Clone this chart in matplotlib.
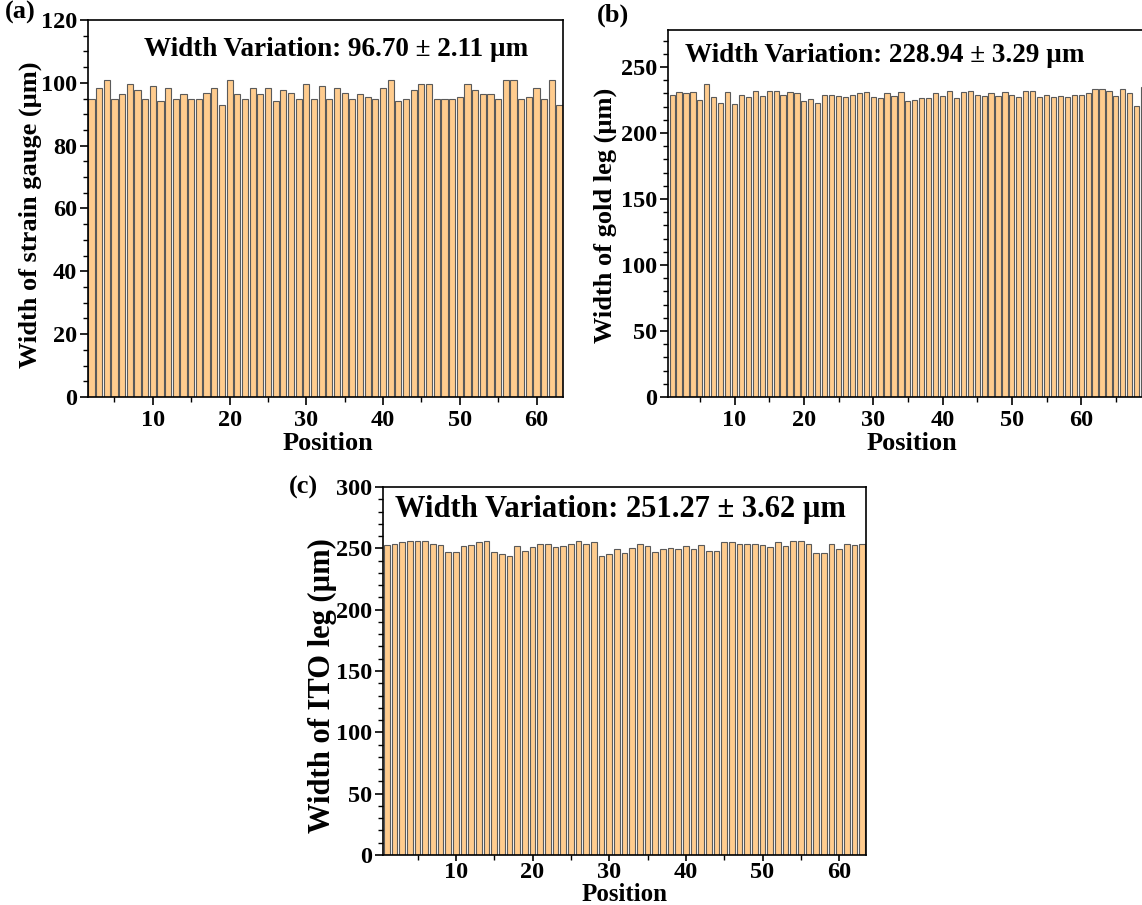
import matplotlib
matplotlib.use('Agg')
import matplotlib.pyplot as plt
from matplotlib.ticker import MultipleLocator, FixedLocator

plt.rcParams['font.family'] = ['Liberation Serif', 'DejaVu Serif']
plt.rcParams['font.weight'] = 'bold'

# ---------------- data ----------------
pos_a = list(range(2, 64))
width_a = [95.0, 98.2, 100.8, 95.0, 96.4, 99.5, 97.6, 95.0, 98.9, 94.3,
           98.2, 95.0, 96.4, 95.0, 95.0, 96.9, 98.2, 93.1, 100.8, 96.4,
           95.0, 98.2, 96.4, 98.2, 94.3, 97.6, 96.9, 95.0, 99.5, 95.0,
           98.9, 95.0, 98.2, 96.9, 95.0, 96.4, 95.6, 95.0, 98.2, 100.8,
           94.3, 95.0, 97.6, 99.5, 99.5, 95.0, 95.0, 95.0, 95.6, 99.5,
           97.6, 96.4, 96.4, 95.0, 100.8, 100.8, 95.0, 95.6, 98.2, 95.0,
           100.8, 93.1]

pos_b = list(range(1, 70))
width_b = [229, 231, 230, 231, 225, 237, 227, 223, 231, 222,
           229, 227, 232, 228, 232, 232, 229, 231, 230, 224,
           226, 223, 229, 229, 228, 227, 229, 230, 231, 227.5,
           226.3, 230, 228, 231, 224.5, 225.2, 226.5, 226.5, 230, 228,
           232, 226.5, 231, 232, 229, 228, 230, 228, 231, 229,
           227, 232, 232, 227.5, 229, 227.5, 228, 227, 229, 229,
           230, 233, 233, 232, 228, 233, 230, 220.7, 235]

pos_c = list(range(1, 64))
width_c = [252.5, 253.8, 255.0, 256.3, 256.3, 256.3, 253.8, 252.5, 247.4, 247.4,
           252.0, 252.7, 254.8, 256.3, 247.4, 245.1, 244.1, 252.0, 248.2, 250.7,
           253.8, 253.8, 250.7, 251.5, 253.8, 256.3, 253.8, 255.0, 244.1, 245.4,
           249.7, 246.1, 250.0, 253.3, 252.0, 247.4, 249.2, 250.5, 249.7, 251.5,
           249.7, 252.7, 248.2, 247.7, 254.8, 254.8, 253.5, 253.3, 253.3, 252.7,
           250.7, 254.8, 252.0, 256.3, 256.3, 253.8, 246.6, 246.6, 253.3, 249.7,
           253.8, 253.0, 253.8]

xticks_ab = [10, 20, 30, 40, 50, 60]

titles = ["Width Variation: 96.70 \u00b1 2.11 \u00b5m",
          "Width Variation: 228.94 \u00b1 3.29 \u00b5m",
          "Width Variation: 251.27 \u00b1 3.62 \u00b5m"]
ylabels = ["Width of strain gauge (\u00b5m)",
           "Width of gold leg (\u00b5m)",
           "Width of ITO leg (\u00b5m)"]
panel_tags = ["(a)", "(b)", "(c)"]

BAR_FC = '#FFCC8E'
BAR_EC = '#5a5a5a'

W, H = 1142, 905
fig = plt.figure(figsize=(W / 100, H / 100), dpi=100)


def ax_at(l, t, r, b):
    return fig.add_axes([l / W, 1 - b / H, (r - l) / W, (b - t) / H])


def style(ax, ymax, ymaj, ymin, xlim, pad=3, xlen=6):
    ax.set_xlim(*xlim)
    ax.set_ylim(0, ymax)
    ax.xaxis.set_major_locator(FixedLocator(xticks_ab))
    ax.xaxis.set_minor_locator(MultipleLocator(5))
    ax.yaxis.set_major_locator(MultipleLocator(ymaj))
    ax.yaxis.set_minor_locator(MultipleLocator(ymin))
    ax.tick_params(which='major', direction='out', length=6, width=1.2,
                   labelsize=17.5, top=False, right=False)
    ax.tick_params(axis='x', which='major', pad=pad, length=xlen)
    ax.tick_params(axis='y', which='major', pad=2)
    ax.tick_params(which='minor', direction='out', length=3.5, width=1.0,
                   top=False, right=False)
    for s in ax.spines.values():
        s.set_linewidth(1.2)
    for lab in ax.get_xticklabels() + ax.get_yticklabels():
        lab.set_fontweight('bold')


def label(x, y, s, fs=19, **kw):
    fig.text(x / W, 1 - y / H, s, ha='center', va='center', fontsize=fs,
             fontweight='bold', **kw)


# ---------------- (a) ----------------
ax1 = ax_at(88, 20, 563, 397)
ax1.bar(pos_a, width_a, width=0.8, color=BAR_FC, edgecolor=BAR_EC, linewidth=0.8)
style(ax1, 120, 20, 5, (1.55, 63.45))
label(336, 50, titles[0], fs=19.5)
label(20, 12, panel_tags[0])
label(30, 215, ylabels[0], rotation=90)
label(328, 443, "Position")

# ---------------- (b) ----------------
ax2 = ax_at(668, 30, 1154, 397)
ax2.bar(pos_b, width_b, width=0.75, color=BAR_FC, edgecolor=BAR_EC, linewidth=0.8)
style(ax2, 278, 50, 10, (0.4, 70.5))
label(885, 55, titles[1], fs=19.5)
label(613, 15, panel_tags[1])
label(605, 215, ylabels[1], rotation=90)
label(912, 443, "Position")

# ---------------- (c) ----------------
ax3 = ax_at(383, 487, 866, 855)
ax3.bar(pos_c, width_c, width=0.72, color=BAR_FC, edgecolor=BAR_EC, linewidth=0.8)
style(ax3, 300, 50, 10, (0.5, 63.5), pad=0.5, xlen=4.5)
label(620, 509, titles[2], fs=22)
label(303, 487, panel_tags[2])
label(322, 686, ylabels[2], fs=22, rotation=90)
label(625, 894, "Position", fs=18)

fig.savefig('out.png', dpi=100)
